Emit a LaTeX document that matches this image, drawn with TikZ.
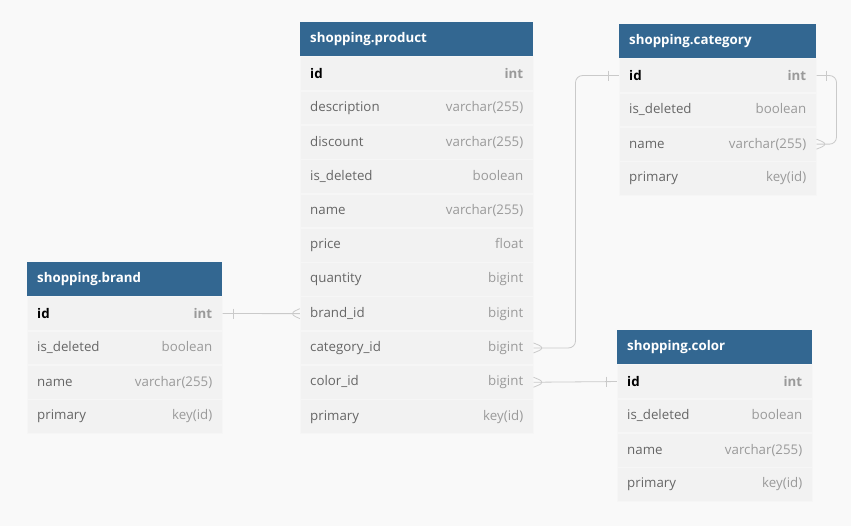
\documentclass[tikz,border=0pt]{standalone}
\usepackage{fontspec}
\setmainfont{Open Sans}
\usetikzlibrary{positioning}
\definecolor{headblue}{HTML}{336791}
\definecolor{rowgray}{HTML}{F2F2F2}
\definecolor{rowline}{HTML}{F6F6F6}
\definecolor{bggray}{HTML}{F9F9F9}
\definecolor{namegray}{HTML}{666666}
\definecolor{typegray}{HTML}{9A9A9A}
\definecolor{linkgray}{HTML}{CACACA}
\newdimen\rowH
\rowH=33.7pt
\newcommand{\colrow}[3]{\makebox[#1][l]{#2\hfill\textcolor{typegray}{#3}}}

\begin{document}
\begin{tikzpicture}[
    x=1pt, y=-1pt,
    font=\fontsize{13.3}{15}\selectfont,
    tblhead/.style={%
      fill=headblue,
      text=white,
      font=\fontsize{13.3}{15}\selectfont\bfseries,
      anchor=north west,
      minimum width=#1,
      minimum height=34pt,
      inner xsep=10pt,
      inner ysep=0pt,
      text width={#1-20pt},
    },
    tblrow/.style={%
      fill=rowgray,
      draw=rowline,
      line width=0.6pt,
      text=namegray,
      minimum width=#1,
      minimum height=\rowH,
      inner xsep=10pt,
      inner ysep=0pt,
    },
    link/.style={%
      draw=linkgray,
      line width=0.8pt,
      rounded corners=7pt,
    },
  ]

    \fill [bggray] (0,0) rectangle (851,526);
    \useasboundingbox (0,0) rectangle (851,526);

    % shopping.product
    \node [tblhead=233pt] (product) at (300,22) {shopping.product};
    \node [tblrow=233pt, below=0pt of product] (product-0)
      {\colrow{213pt}{\textbf{\color{black}id}}{\textbf{int}}};
    \foreach \fname/\ftype [count=\i from 1] in {description/varchar(255),
        discount/varchar(255), is\_deleted/boolean, name/varchar(255),
        price/float, quantity/bigint, brand\_id/bigint, category\_id/bigint,
        color\_id/bigint, primary/key(id)} {
      \pgfmathtruncatemacro\prev{\i-1}
      \node [tblrow=233pt, below=0pt of product-\prev] (product-\i)
        {\colrow{213pt}{\fname}{\ftype}};
    }

    % shopping.category
    \node [tblhead=197pt] (category) at (619,24) {shopping.category};
    \node [tblrow=197pt, below=0pt of category] (category-0)
      {\colrow{177pt}{\textbf{\color{black}id}}{\textbf{int}}};
    \foreach \fname/\ftype [count=\i from 1] in {is\_deleted/boolean,
        name/varchar(255), primary/key(id)} {
      \pgfmathtruncatemacro\prev{\i-1}
      \node [tblrow=197pt, below=0pt of category-\prev] (category-\i)
        {\colrow{177pt}{\fname}{\ftype}};
    }

    % shopping.brand
    \node [tblhead=195pt] (brand) at (27,262) {shopping.brand};
    \node [tblrow=195pt, below=0pt of brand] (brand-0)
      {\colrow{175pt}{\textbf{\color{black}id}}{\textbf{int}}};
    \foreach \fname/\ftype [count=\i from 1] in {is\_deleted/boolean,
        name/varchar(255), primary/key(id)} {
      \pgfmathtruncatemacro\prev{\i-1}
      \node [tblrow=195pt, below=0pt of brand-\prev] (brand-\i)
        {\colrow{175pt}{\fname}{\ftype}};
    }

    % shopping.color
    \node [tblhead=195pt] (color) at (617,330) {shopping.color};
    \node [tblrow=195pt, below=0pt of color] (color-0)
      {\colrow{175pt}{\textbf{\color{black}id}}{\textbf{int}}};
    \foreach \fname/\ftype [count=\i from 1] in {is\_deleted/boolean,
        name/varchar(255), primary/key(id)} {
      \pgfmathtruncatemacro\prev{\i-1}
      \node [tblrow=195pt, below=0pt of color-\prev] (color-\i)
        {\colrow{175pt}{\fname}{\ftype}};
    }

    % brand.id -- product.brand_id
    \draw [link] (brand-0.east) -- (product-7.west);
    \draw [link] ([xshift=11pt,yshift=5pt]brand-0.east) -- ([xshift=11pt,yshift=-5pt]brand-0.east);
    \draw [link] ([yshift=5pt]product-7.west) -- ([xshift=-11pt]product-7.west) -- ([yshift=-5pt]product-7.west);

    % product.category_id -- category.id
    \draw [link] (product-8.east) -- ++(42,0) |- (category-0.west);
    \draw [link] ([yshift=5pt]product-8.east) -- ([xshift=12pt]product-8.east) -- ([yshift=-5pt]product-8.east);
    \draw [link] ([xshift=-11pt,yshift=5pt]category-0.west) -- ([xshift=-11pt,yshift=-5pt]category-0.west);

    % product.color_id -- color.id
    \draw [link] (product-9.east) -- (color-0.west);
    \draw [link] ([yshift=5pt]product-9.east) -- ([xshift=12pt]product-9.east) -- ([yshift=-5pt]product-9.east);
    \draw [link] ([xshift=-11pt,yshift=5pt]color-0.west) -- ([xshift=-11pt,yshift=-5pt]color-0.west);

    % category.id -- category.name
    \draw [link] (category-0.east) -- ++(20,0) |- (category-2.east);
    \draw [link] ([xshift=10pt,yshift=5pt]category-0.east) -- ([xshift=10pt,yshift=-5pt]category-0.east);
    \draw [link] ([yshift=5pt]category-2.east) -- ([xshift=12pt]category-2.east) -- ([yshift=-5pt]category-2.east);
\end{tikzpicture}
\end{document}
